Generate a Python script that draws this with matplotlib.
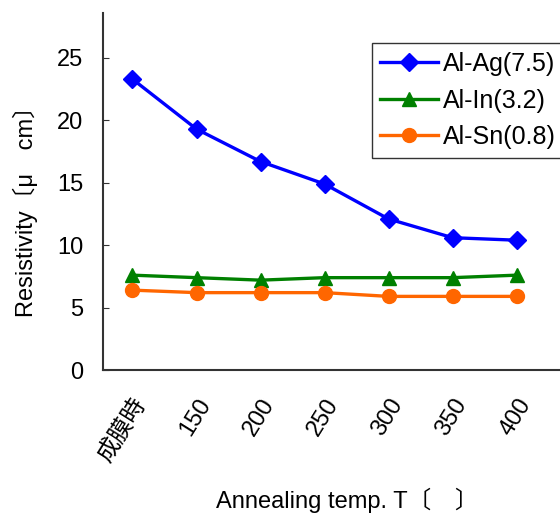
import matplotlib
matplotlib.use("Agg")
import matplotlib.pyplot as plt

plt.rcParams['font.family'] = ['Liberation Sans', 'Noto Sans CJK JP', 'DejaVu Sans']

categories = ['成膜時', '150', '200', '250', '300', '350', '400']
al_ag = [23.3, 19.3, 16.7, 14.9, 12.1, 10.6, 10.4]
al_in = [7.6, 7.4, 7.2, 7.4, 7.4, 7.4, 7.6]
al_sn = [6.4, 6.2, 6.2, 6.2, 5.9, 5.9, 5.9]
yticks = [0, 5, 10, 15, 20, 25]

FS = 17

fig = plt.figure(figsize=(5.6, 5.19), dpi=100)
ax = fig.add_axes([0.184, 0.287, 0.83, 0.688])

x = list(range(len(categories)))
ax.plot(x, al_ag, color='#0000FF', lw=2.4, marker='D', ms=9, label='Al-Ag(7.5)')
ax.plot(x, al_in, color='#008000', lw=2.4, marker='^', ms=10, label='Al-In(3.2)')
ax.plot(x, al_sn, color='#FF6600', lw=2.4, marker='o', ms=10, label='Al-Sn(0.8)')

ax.set_xlim(-0.46, 6.8)
ax.set_ylim(0, 28.6)
ax.set_yticks(yticks)
ax.set_xticks(x)
ax.set_xticklabels(categories, rotation=58, ha='right', va='top',
                   rotation_mode='anchor', fontsize=FS)
ax.tick_params(axis='y', direction='in', length=4, labelsize=FS, pad=14,
               color='#333333')
ax.tick_params(axis='x', length=0, pad=18)
for s in ['top', 'right']:
    ax.spines[s].set_visible(False)
for s in ['left', 'bottom']:
    ax.spines[s].set_color('#333333')
    ax.spines[s].set_linewidth(1.5)

ax.set_ylabel('Resistivity〔μ　cm〕', fontsize=FS)
ax.yaxis.set_label_coords(-0.14, 0.46)
ax.set_xlabel('Annealing temp. T〔　〕', fontsize=FS)
ax.xaxis.set_label_coords(0.525, -0.33)

leg = ax.legend(loc='upper right', bbox_to_anchor=(0.993, 0.915), fontsize=18,
                frameon=True, fancybox=False, edgecolor='black',
                handlelength=2.3, borderpad=0.35, labelspacing=0.5,
                handletextpad=0.2, borderaxespad=0)
leg.get_frame().set_linewidth(1.0)

fig.savefig('out.png', dpi=100)
